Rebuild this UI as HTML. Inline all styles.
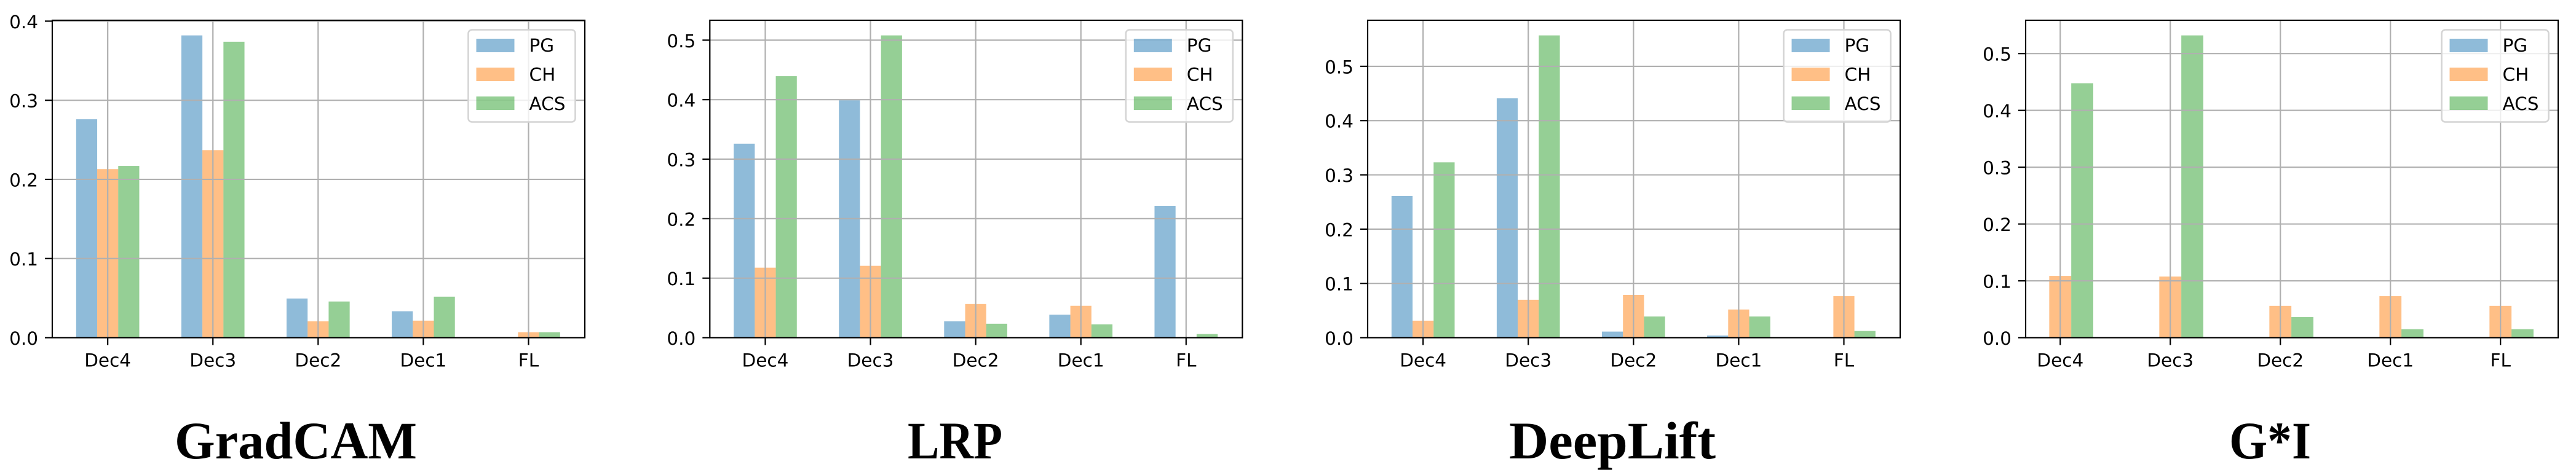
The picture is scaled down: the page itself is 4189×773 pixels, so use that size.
<!DOCTYPE html>
<html>
<head>
<meta charset="utf-8">
<title>Attribution method comparison</title>
<style>
html,body{margin:0;padding:0;background:#fff;width:4189px;height:773px;overflow:hidden}
svg{display:block}
.tick{font-family:"DejaVu Sans","Liberation Sans",sans-serif;font-size:29.5px;fill:#000}
.title{font-family:"Liberation Serif",serif;font-weight:bold;font-size:86px;fill:#000}
</style>
</head>
<body>
<svg id="figure" xmlns="http://www.w3.org/2000/svg" width="4189" height="773" viewBox="0 0 4189 773"></svg>
<script>
const categories = ['Dec4', 'Dec3', 'Dec2', 'Dec1', 'FL'];
const seriesNames = ['PG', 'CH', 'ACS'];

const gradcamPG = [0.276, 0.382, 0.0495, 0.0334, 0];
const gradcamCH = [0.213, 0.237, 0.0207, 0.0215, 0.0069];
const gradcamACS = [0.217, 0.374, 0.0457, 0.0518, 0.0069];
const gradcamTicks = ['0.0', '0.1', '0.2', '0.3', '0.4'];

const lrpPG = [0.326, 0.399, 0.0275, 0.0387, 0.2215];
const lrpCH = [0.1176, 0.1207, 0.0565, 0.0535, 0];
const lrpACS = [0.4394, 0.508, 0.0234, 0.0224, 0.0061];
const lrpTicks = ['0.0', '0.1', '0.2', '0.3', '0.4', '0.5'];

const deepliftPG = [0.261, 0.441, 0.0112, 0.0039, 0];
const deepliftCH = [0.0313, 0.0698, 0.0787, 0.0519, 0.0765];
const deepliftACS = [0.323, 0.557, 0.039, 0.039, 0.0123];
const deepliftTicks = ['0.0', '0.1', '0.2', '0.3', '0.4', '0.5'];

const gradinputPG = [0, 0, 0, 0, 0];
const gradinputCH = [0.1086, 0.1076, 0.0559, 0.073, 0.0559];
const gradinputACS = [0.4478, 0.532, 0.0362, 0.0149, 0.0149];
const gradinputTicks = ['0.0', '0.1', '0.2', '0.3', '0.4', '0.5'];

const NS = 'http://www.w3.org/2000/svg';
const fig = document.getElementById('figure');
const colors = ['#1f77b4', '#ff7f0e', '#2ca02c'];
const panels = [
  {slug: 'gradcam', title: 'GradCAM', left: 85, xMin: -0.527, xMax: 4.535, series: [gradcamPG, gradcamCH, gradcamACS], ticks: gradcamTicks, titleX: 481, titleLen: 394},
  {slug: 'lrp', title: 'LRP', left: 1154.3, xMin: -0.527, xMax: 4.535, series: [lrpPG, lrpCH, lrpACS], ticks: lrpTicks, titleX: 1553, titleLen: 154},
  {slug: 'deeplift', title: 'DeepLift', left: 2224, xMin: -0.527, xMax: 4.535, series: [deepliftPG, deepliftCH, deepliftACS], ticks: deepliftTicks, titleX: 2622, titleLen: 336},
  {slug: 'gi', title: 'G*I', left: 3294, xMin: -0.3145, xMax: 4.524, series: [gradinputPG, gradinputCH, gradinputACS], ticks: gradinputTicks, titleX: 3691.5, titleLen: 133}
];
const AX_W = 866, AX_TOP = 33, AX_BOTTOM = 549.5;
const BAR_W = 0.2;

function el(tag, attrs, parent) {
  const node = document.createElementNS(NS, tag);
  for (const k in attrs) node.setAttribute(k, attrs[k]);
  parent.appendChild(node);
  return node;
}

panels.forEach(function (p) {
  const maxVal = Math.max.apply(null, p.series.flat());
  const yMax = maxVal * 1.05;
  const xS = function (v) { return p.left + (v - p.xMin) * AX_W / (p.xMax - p.xMin); };
  const yS = function (v) { return AX_BOTTOM - v / yMax * (AX_BOTTOM - AX_TOP); };
  const right = p.left + AX_W;

  const g = el('g', {}, fig);
  
  

  // bars
  p.series.forEach(function (vals, s) {
    vals.forEach(function (v, i) {
      const x0 = xS(i + (s - 1) * BAR_W - BAR_W / 2);
      const bar = el('rect', {x: x0, y: yS(v), width: BAR_W * AX_W / (p.xMax - p.xMin), height: AX_BOTTOM - yS(v), fill: colors[s], 'fill-opacity': 0.5}, g);
      
      
    });
  });

  // y grid, ticks, labels
  p.ticks.forEach(function (t) {
    const y = yS(parseFloat(t));
    if (parseFloat(t) > 0) {
      const grid = el('line', {x1: p.left, x2: right, y1: y, y2: y, stroke: '#b0b0b0', 'stroke-width': 2.2}, g);
      
      
    }
    const mark = el('line', {x1: p.left - 12, x2: p.left, y1: y, y2: y, stroke: '#000', 'stroke-width': 2.2}, g);
    
    
    const label = el('text', {x: p.left - 23, y: y + 11.5, 'text-anchor': 'end', class: 'tick'}, g);
    label.textContent = t;
    
    
  });

  // x grid, ticks, labels
  categories.forEach(function (c, i) {
    const x = xS(i);
    const grid = el('line', {x1: x, x2: x, y1: AX_TOP, y2: AX_BOTTOM, stroke: '#b0b0b0', 'stroke-width': 2.2}, g);
    
    
    const mark = el('line', {x1: x, x2: x, y1: AX_BOTTOM, y2: AX_BOTTOM + 12, stroke: '#000', 'stroke-width': 2.2}, g);
    
    
    const label = el('text', {x: x, y: 596.5, 'text-anchor': 'middle', class: 'tick'}, g);
    label.textContent = c;
    
    
  });

  // axes frame
  const frame = el('rect', {x: p.left, y: AX_TOP, width: AX_W, height: AX_BOTTOM - AX_TOP, fill: 'none', stroke: '#000', 'stroke-width': 2.2}, g);
  
  

  // legend
  const lg = el('g', {}, g);
  
  
  const lx = right - 189.5;
  el('rect', {x: lx, y: 48.5, width: 174, height: 150, rx: 6, ry: 6, fill: '#fff', 'fill-opacity': 0.8, stroke: '#d4d4d4', 'stroke-width': 2.6}, lg);
  seriesNames.forEach(function (name, s) {
    const sw = el('rect', {x: lx + 13, y: 63 + s * 47, width: 62, height: 22, fill: colors[s], 'fill-opacity': 0.5}, lg);
    
    
    const tx = el('text', {x: lx + 99, y: 84 + s * 47.4, class: 'tick'}, lg);
    tx.textContent = name;
    
    
  });

  // caption
  const cap = el('text', {x: p.titleX, y: 746, 'text-anchor': 'middle', class: 'title', textLength: p.titleLen, lengthAdjust: 'spacingAndGlyphs'}, g);
  cap.textContent = p.title;
  
  
});
</script>
</body>
</html>
